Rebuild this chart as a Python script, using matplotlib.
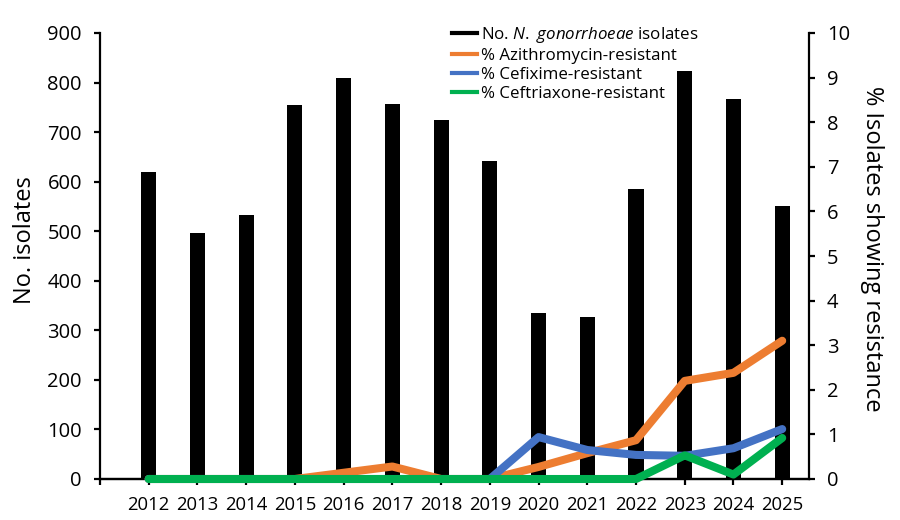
import matplotlib
matplotlib.use("Agg")
import matplotlib.pyplot as plt
from matplotlib.lines import Line2D

plt.rcParams['font.family'] = ['Open Sans', 'DejaVu Sans']
plt.rcParams['mathtext.fontset'] = 'custom'
plt.rcParams['mathtext.it'] = 'Open Sans:italic'
plt.rcParams['mathtext.rm'] = 'Open Sans'

years = [2012, 2013, 2014, 2015, 2016, 2017, 2018, 2019, 2020, 2021, 2022, 2023, 2024, 2025]
isolates = [620, 497, 533, 755, 810, 757, 725, 641, 335, 327, 585, 823, 767, 550]
azithro = [0, 0, 0, 0, 0.14, 0.28, 0, 0, 0.27, 0.58, 0.87, 2.2, 2.38, 3.1]
cefixime = [0, 0, 0, 0, 0, 0, 0, 0, 0.94, 0.65, 0.54, 0.52, 0.69, 1.12]
ceftriax = [0, 0, 0, 0, 0, 0, 0, 0, 0, 0, 0, 0.53, 0.1, 0.92]

c_azi = '#ED7D31'
c_cef = '#4472C4'
c_cro = '#00B050'

fig = plt.figure(figsize=(9, 5.2), dpi=100)
ax = fig.add_axes([100/900, 1-479/520, (809-100)/900, (479-33)/520])
ax2 = ax.twinx()

ax.bar(years, isolates, width=0.31, color='black', zorder=2)
ax.set_ylim(0, 900)
ax.set_yticks(range(0, 901, 100))
ax.set_xlim(2011, 2025.55)
ax.set_xticks([2011] + years)
ax.set_xticklabels([''] + [str(y) for y in years])

lw = 5.8
for vals, col in [(azithro, c_azi), (cefixime, c_cef), (ceftriax, c_cro)]:
    ax2.plot(years, vals, color=col, lw=lw, solid_capstyle='round',
             solid_joinstyle='round', clip_on=False, zorder=3)
ax2.set_ylim(0, 10)
ax2.set_yticks(range(0, 11))

for a in (ax, ax2):
    for s in a.spines.values():
        s.set_linewidth(1.6)
    a.spines['top'].set_visible(False)
    a.tick_params(axis='y', direction='out', length=4, width=1.6,
                  labelsize=14.5, colors='black', pad=9)
ax.tick_params(axis='x', direction='out', length=4, width=1.6,
               labelsize=13.3, pad=8)
ax2.spines['left'].set_visible(False)
ax.spines['right'].set_visible(False)

fig.text(25/900, 1-240/520, 'No. isolates', fontsize=17, rotation=90,
         ha='center', va='center')
fig.text(872/900, 1-249/520, '% Isolates showing resistance', fontsize=17,
         rotation=270, ha='center', va='center')

handles = [Line2D([], [], color='black', lw=3),
           Line2D([], [], color=c_azi, lw=3),
           Line2D([], [], color=c_cef, lw=3),
           Line2D([], [], color=c_cro, lw=3)]
labels = ['No. $\\it{N.\\ gonorrhoeae}$ isolates', '% Azithromycin-resistant',
          '% Cefixime-resistant', '% Ceftriaxone-resistant']
leg = ax2.legend(handles, labels, loc='upper left',
                 bbox_to_anchor=(452/900, 1-25/520), bbox_transform=fig.transFigure,
                 frameon=False, fontsize=12.2, handlelength=1.45, handletextpad=0.25,
                 labelspacing=0.17, borderpad=0, borderaxespad=0)

fig.savefig('out.png', dpi=100)
